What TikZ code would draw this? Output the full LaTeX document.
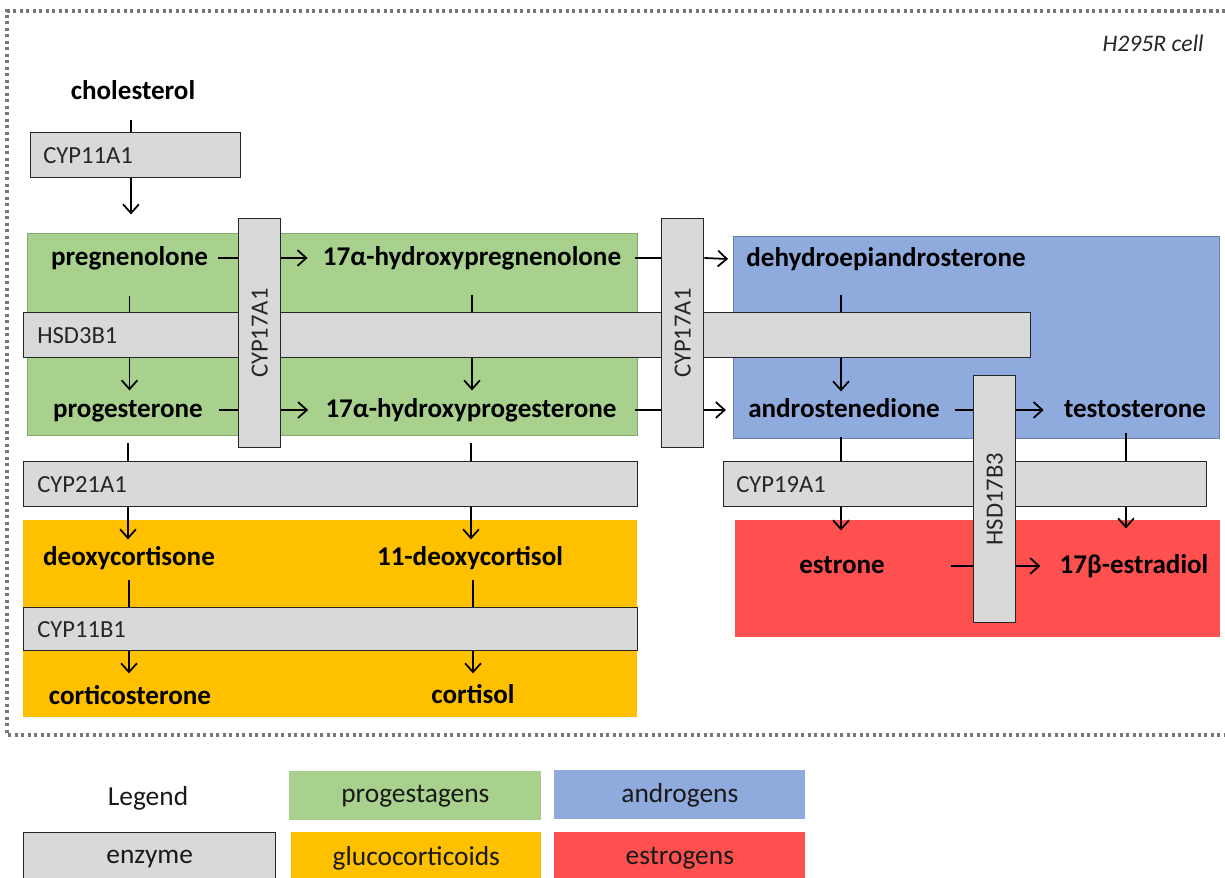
\documentclass[tikz,border=0pt]{standalone}
\usepackage{fontspec}
\setmainfont{Carlito}
\usepackage{graphicx}
\usetikzlibrary{arrows.meta,calc}
\definecolor{cgreen}{HTML}{A9D18E}
\definecolor{cblue}{HTML}{8FAADC}
\definecolor{corange}{HTML}{FFC000}
\definecolor{cred}{HTML}{FF5050}
\definecolor{cgray}{HTML}{D9D9D9}
\definecolor{cframe}{HTML}{767676}
\newcommand\bx[7]{%
  \pgfmathsetmacro\bxw{(#5)-(#3)}%
  \pgfmathsetmacro\bxh{(#6)-(#4)}%
  \node[#1, minimum width=\bxw*0.02cm, minimum height=\bxh*0.02cm, anchor=north west] (#2) at (#3,#4) {#7};}
\begin{document}
\begin{tikzpicture}[x=0.02cm,y=-0.02cm,
  enz/.style={draw=black!85, fill=cgray, line width=0.8pt, inner sep=0pt, font=\fontsize{14}{17}\selectfont, text=black!85},
  region/.style={inner sep=0pt},
  met/.style={font=\fontsize{15.4}{18}\selectfont\bfseries, inner sep=0pt, text height=1.9ex, text depth=0pt},
  enzlab/.style={font=\fontsize{14}{17}\selectfont, inner sep=0pt, anchor=west, text=black!85},
  leg/.style={inner sep=0pt, font=\fontsize{15.6}{18}\selectfont, text=black!90},
  ln/.style={line width=1pt},
  arr/.style={line width=1pt, -{Straight Barb[length=5pt,width=9pt]}},
]
\useasboundingbox (0,0) rectangle (1225,878);
\fill[white] (0,0) rectangle (1225,878);
% cell frame
\draw[cframe, line width=1.8pt, dash pattern=on 1.8pt off 1.9pt] (1232,11) -- (7,11) -- (7,735) -- (1232,735);
\node[font=\fontsize{13.5}{16}\selectfont\itshape, anchor=east, inner sep=0pt, text=black!85] (cell) at (1204,43) {H295R cell};
% class regions
\bx{region, fill=cgreen, draw=cgreen!80!black, line width=0.5pt}{rgreen}{27}{233}{637}{435}{}
\bx{region, fill=cblue, draw=cblue!75!black, line width=0.5pt}{rblue}{733}{236}{1219}{438}{}
\bx{region, fill=corange}{rorange}{23}{520}{637}{717}{}
\bx{region, fill=cred}{rred}{735}{520}{1220}{637}{}
% horizontal enzymes
\bx{enz}{cyp11a1}{30}{132}{240}{177}{}
\bx{enz}{hsd3b1}{23}{312}{1030}{357}{}
\bx{enz}{cyp21a1}{23}{461}{637}{506}{}
\bx{enz}{cyp19a1}{723}{461}{1206}{506}{}
\bx{enz}{cyp11b1}{23}{607}{637}{650}{}
\node[enzlab] (l11a1) at ($(cyp11a1.west)+(13,0)$) {CYP11A1};
\node[enzlab] (l3b1) at ($(hsd3b1.west)+(14,0)$) {HSD3B1};
\node[enzlab] (l21a1) at ($(cyp21a1.west)+(14,0)$) {CYP21A1};
\node[enzlab] (l19a1) at ($(cyp19a1.west)+(13,0)$) {CYP19A1};
\node[enzlab] (l11b1) at ($(cyp11b1.west)+(14,0)$) {CYP11B1};
% vertical enzymes
\bx{enz}{c17a}{238}{218}{280}{447}{\rotatebox{90}{CYP17A1}}
\bx{enz}{c17b}{661}{218}{703}{447}{\rotatebox{90}{CYP17A1}}
\bx{enz}{hsd17}{973}{375}{1015}{622}{\rotatebox{90}{HSD17B3}}
% metabolites
\node[met] (chol) at (133,92) {cholesterol};
\node[met] (preg) at (129.5,258) {pregnenolone};
\node[met] (ohpreg) at (472,258) {17α-hydroxypregnenolone};
\node[met] (dhea) at (886,259) {dehydroepiandrosterone};
\node[met] (prog) at (128,410) {progesterone};
\node[met] (ohprog) at (471,410) {17α-hydroxyprogesterone};
\node[met] (andro) at (844,410) {androstenedione};
\node[met] (testo) at (1135,410) {testosterone};
\node[met] (doc) at (129,558) {deoxycortisone};
\node[met] (odc) at (470,558) {11-deoxycortisol};
\node[met] (cort) at (130,697) {corticosterone};
\node[met] (cortisol) at (473,696) {cortisol};
\node[met] (estrone) at (842,566) {estrone};
\node[met] (e2) at (1134,566) {17β-estradiol};
% connectors: cholesterol
\draw[ln] ($(chol.south |- cyp11a1.north)+(-2,-12)$) -- ($(chol.south |- cyp11a1.north)+(-2,0)$);
\draw[arr] ($(chol.south |- cyp11a1.south)+(-2,0)$) -- ($(chol.south |- cyp11a1.south)+(-2,36)$);
% CYP17A1 reactions
\draw[ln] ($(preg.east)+(10,0)$) -- (preg.east -| c17a.west);
\draw[arr] (c17a.east |- preg.east) -- ($(ohpreg.west)+(-15,0)$);
\draw[ln] ($(ohpreg.east)+(14,0)$) -- (ohpreg.east -| c17b.west);
\draw[arr] (c17b.east |- ohpreg.east) -- ($(dhea.west)+(-18,0)$);
\draw[ln] ($(prog.east)+(16,0)$) -- (prog.east -| c17a.west);
\draw[arr] (c17a.east |- prog.east) -- ($(ohprog.west)+(-17,0)$);
\draw[ln] ($(ohprog.east)+(18,0)$) -- (ohprog.east -| c17b.west);
\draw[arr] (c17b.east |- ohprog.east) -- ($(andro.west)+(-22,0)$);
% HSD17B3 reactions
\draw[ln] ($(andro.east)+(15,0)$) -- (andro.east -| hsd17.west);
\draw[arr] (hsd17.east |- andro.east) -- ($(testo.west)+(-20,0)$);
\draw[ln] ($(estrone.east)+(66,0)$) -- (estrone.east -| hsd17.west);
\draw[arr] (hsd17.east |- estrone.east) -- ($(e2.west)+(-19,0)$);
% HSD3B1 reactions
\draw[ln] ($(preg.south |- hsd3b1.north)+(0,-16)$) -- (preg.south |- hsd3b1.north);
\draw[arr] (preg.south |- hsd3b1.south) -- ($(preg.south |- hsd3b1.south)+(0,32)$);
\draw[ln] ($(ohpreg.south |- hsd3b1.north)+(0,-17)$) -- (ohpreg.south |- hsd3b1.north);
\draw[arr] (ohpreg.south |- hsd3b1.south) -- ($(ohpreg.south |- hsd3b1.south)+(0,32)$);
\draw[ln] ($(andro.south |- hsd3b1.north)+(-3,-17)$) -- ($(andro.south |- hsd3b1.north)+(-3,0)$);
\draw[arr] ($(andro.south |- hsd3b1.south)+(-3,0)$) -- ($(andro.south |- hsd3b1.south)+(-3,33)$);
% CYP21A1 reactions
\draw[ln] ($(prog.south |- cyp21a1.north)+(0,-18)$) -- (prog.south |- cyp21a1.north);
\draw[arr] (prog.south |- cyp21a1.south) -- ($(prog.south |- cyp21a1.south)+(0,32)$);
\draw[ln] ($(ohprog.south |- cyp21a1.north)+(0,-18)$) -- (ohprog.south |- cyp21a1.north);
\draw[arr] (ohprog.south |- cyp21a1.south) -- ($(ohprog.south |- cyp21a1.south)+(0,32)$);
% CYP19A1 reactions
\draw[ln] ($(andro.south |- cyp19a1.north)+(-3,-24)$) -- ($(andro.south |- cyp19a1.north)+(-3,0)$);
\draw[arr] ($(andro.south |- cyp19a1.south)+(-3,0)$) -- ($(andro.south |- cyp19a1.south)+(-3,23)$);
\draw[ln] ($(testo.south |- cyp19a1.north)+(-9,-28)$) -- ($(testo.south |- cyp19a1.north)+(-9,0)$);
\draw[arr] ($(testo.south |- cyp19a1.south)+(-9,0)$) -- ($(testo.south |- cyp19a1.south)+(-9,21)$);
% CYP11B1 reactions
\draw[ln] ($(doc.south |- cyp11b1.north)+(0,-27)$) -- (doc.south |- cyp11b1.north);
\draw[arr] (doc.south |- cyp11b1.south) -- ($(doc.south |- cyp11b1.south)+(0,22)$);
\draw[ln] ($(odc.south |- cyp11b1.north)+(3,-27)$) -- ($(odc.south |- cyp11b1.north)+(3,0)$);
\draw[arr] ($(odc.south |- cyp11b1.south)+(3,0)$) -- ($(odc.south |- cyp11b1.south)+(3,22)$);
% legend
\node[leg] (legend) at (148,798) {Legend};
\bx{region, fill=cgreen, leg}{lgreen}{289}{771}{541}{820}{progestagens}
\bx{region, fill=cblue, leg}{lblue}{554}{770}{805}{819}{androgens}
\bx{enz, leg}{lenz}{23}{832}{275}{884}{enzyme}
\bx{region, fill=corange, leg}{lorange}{291}{832}{541}{884}{glucocorticoids}
\bx{region, fill=cred, leg}{lred}{554}{832}{805}{884}{estrogens}
\end{tikzpicture}
\end{document}
